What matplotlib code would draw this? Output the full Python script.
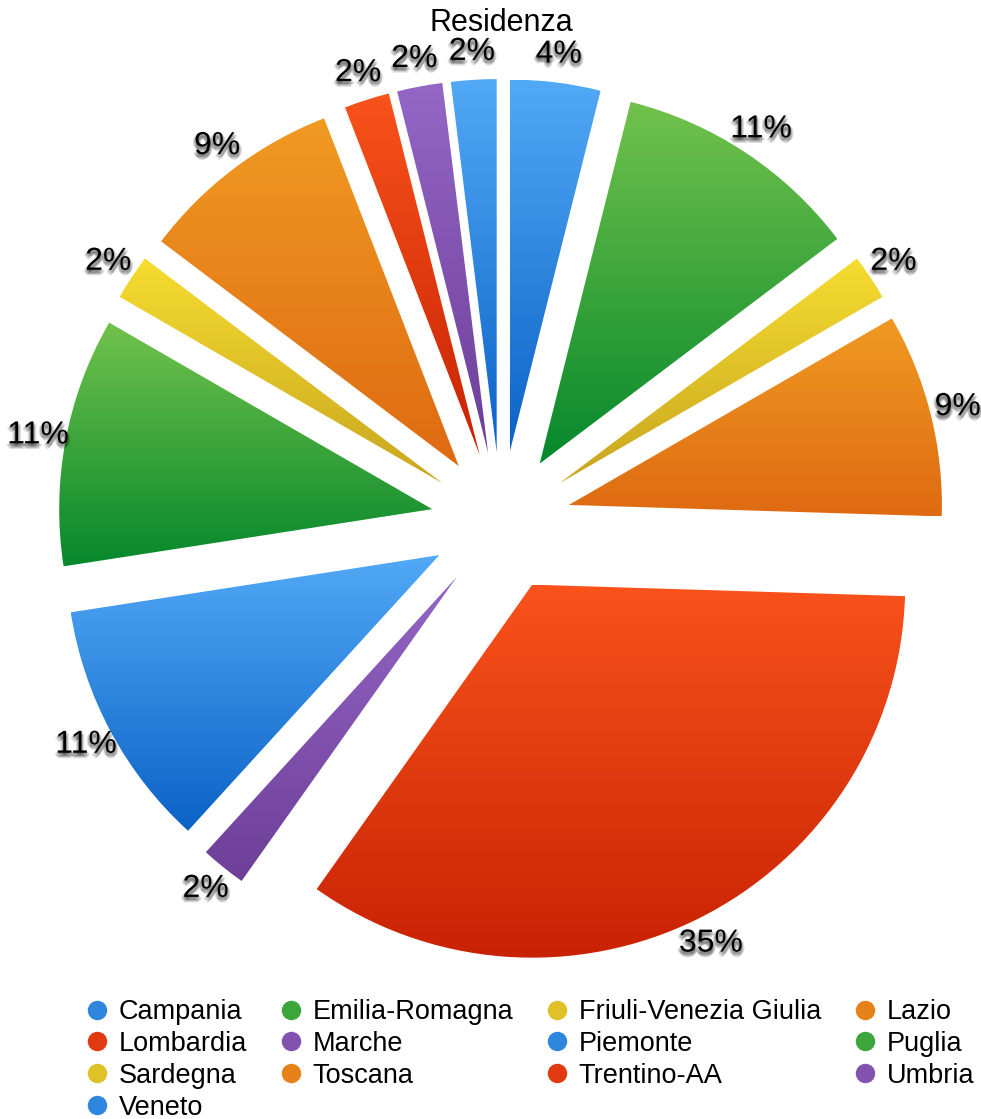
import matplotlib
matplotlib.use('Agg')
import matplotlib.pyplot as plt
import numpy as np
from matplotlib import patheffects
from matplotlib.colors import LinearSegmentedColormap, to_rgb
from matplotlib.lines import Line2D

plt.rcParams['font.family'] = ['Liberation Sans', 'DejaVu Sans']

# dati
regioni = ['Campania', 'Emilia-Romagna', 'Friuli-Venezia Giulia', 'Lazio',
           'Lombardia', 'Marche', 'Piemonte', 'Puglia', 'Sardegna',
           'Toscana', 'Trentino-AA', 'Umbria', 'Veneto']
percentuali = [4, 11, 2, 9, 35, 2, 11, 11, 2, 9, 2, 2, 2]
etichette = [f'{p}%' for p in percentuali]

# colori del gradiente (alto, basso)
blu = ('#52A9F6', '#0B62C6')
verde = ('#72C24C', '#06882C')
giallo = ('#F6DD2F', '#C8A520')
arancio = ('#F09A22', '#DE6A12')
rosso = ('#F9521B', '#C82204')
viola = ('#9466C6', '#6E3F98')
colori = [blu, verde, giallo, arancio, rosso, viola, blu,
          verde, giallo, arancio, rosso, viola, blu]

W, H = 981, 1119
fig = plt.figure(figsize=(W / 100, H / 100), dpi=100)
ax = fig.add_axes([0, 0, 1, 1])

centro = (501, H - 522)
raggio = 373
it = iter(etichette)
wedges, _, testi = ax.pie(percentuali, radius=raggio, center=centro,
                          explode=[70] * len(percentuali), startangle=90,
                          counterclock=False, autopct=lambda p: next(it),
                          pctdistance=1.075, wedgeprops=dict(linewidth=0),
                          textprops=dict(fontsize=23))

# riempimento a gradiente verticale dentro ogni spicchio
grad = np.linspace(0, 1, 256).reshape(-1, 1)
for w, (c_top, c_bot) in zip(wedges, colori):
    x0, y0, x1, y1 = w.get_path().get_extents().extents
    cmap = LinearSegmentedColormap.from_list('g', [c_bot, c_top])
    img = ax.imshow(grad, cmap=cmap, extent=(x0, x1, y0, y1), origin='lower',
                    aspect='auto', interpolation='bicubic', zorder=1)
    img.set_clip_path(w)
    w.set_facecolor('none')

# ombra sfumata sotto le percentuali
ombra = [patheffects.SimplePatchShadow(offset=o, shadow_rgbFace='black', alpha=0.13)
         for o in [(0, -2), (1, -3), (-1, -3), (0, -4), (1, -1), (-1, -1), (2, -2), (-2, -2)]]
for t in testi:
    t.set_path_effects(ombra + [patheffects.Normal()])
    t.set_zorder(3)

ax.set_xlim(0, W)
ax.set_ylim(0, H)
ax.axis('off')

fig.text(501 / W, 1 - 23 / H, 'Residenza', ha='center', va='center', fontsize=22)

# legenda a righe (matplotlib riempie per colonne)
def medio(c):
    a, b = np.array(to_rgb(c[0])), np.array(to_rgb(c[1]))
    return tuple((a + b) / 2)

maniglie = [Line2D([], [], linestyle='none', marker='o', markersize=14,
                   markerfacecolor=medio(c), markeredgewidth=0) for c in colori]
ordine = [i for c in range(4) for i in range(c, len(regioni), 4)]
fig.legend([maniglie[i] for i in ordine], [regioni[i] for i in ordine],
           ncols=4, loc='upper left', bbox_to_anchor=(86 / W, 1 - 999 / H),
           frameon=False, fontsize=19.5, handlelength=0.8, handletextpad=0.4,
           columnspacing=1.22, labelspacing=0.22, borderpad=0, borderaxespad=0)

fig.savefig('out.png', dpi=100)
